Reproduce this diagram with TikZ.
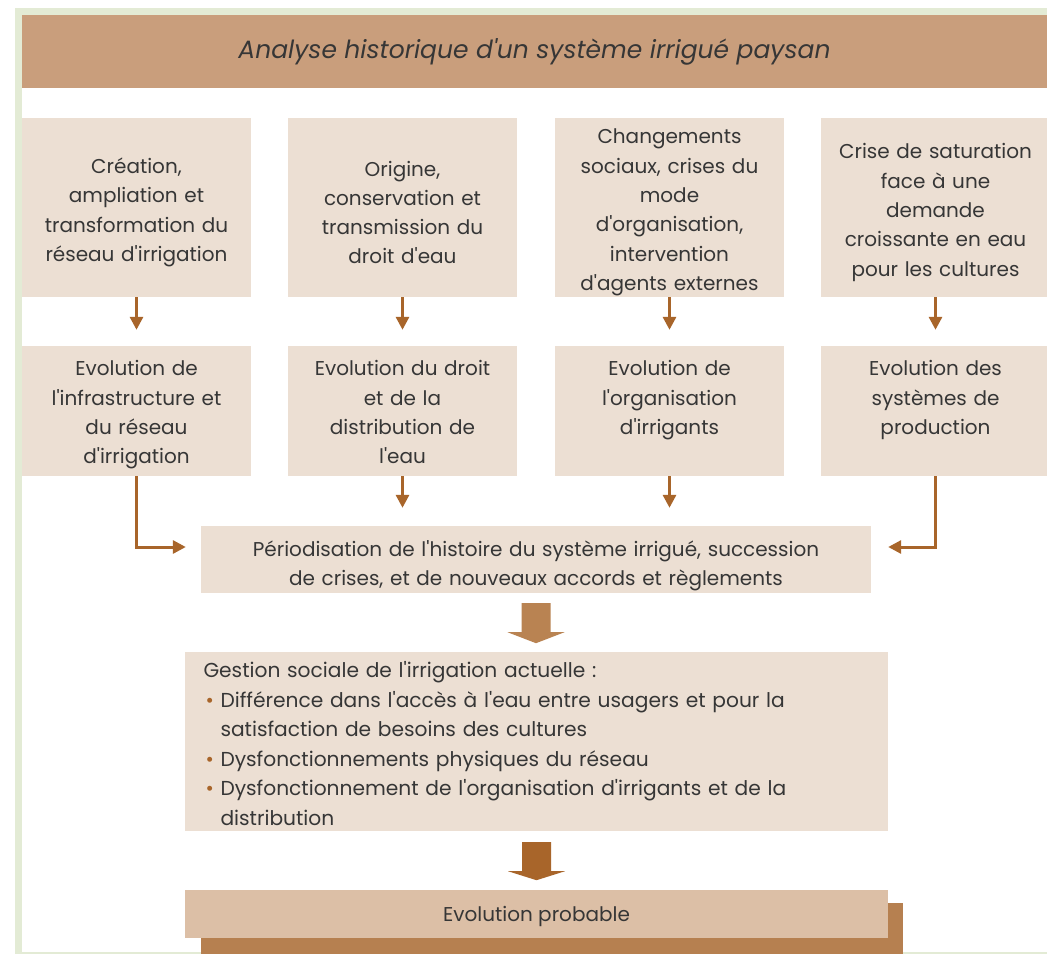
\documentclass[tikz,border=0pt]{standalone}
\usepackage{fontspec}
\setmainfont{Poppins}[Ligatures=TeXOff]
\usetikzlibrary{arrows.meta}
\definecolor{frameg}{HTML}{E3EBD5}
\definecolor{headc}{HTML}{C99E7C}
\definecolor{boxc}{HTML}{ECDFD3}
\definecolor{arrc}{HTML}{A8652A}
\definecolor{bigA}{HTML}{B98352}
\definecolor{bigB}{HTML}{A8652A}
\definecolor{lastc}{HTML}{DCBFA6}
\definecolor{shadc}{HTML}{B68050}
\definecolor{txt}{HTML}{363636}
\newcommand{\bul}{\makebox[17pt][l]{\hspace{2pt}\textcolor{arrc}{\textbullet}}}
\begin{document}
\begin{tikzpicture}[x=1pt,y=-1pt,
  boxfill/.style={fill=boxc, inner sep=0pt, minimum width=229pt},
  boxtext/.style={text=txt, align=center, inner sep=0pt, text width=222pt,
    font=\fontsize{20}{29.3}\selectfont},
  conn/.style={draw=arrc, line width=3pt, -{Triangle[length=13pt,width=13pt]}}]
\useasboundingbox (0,0) rectangle (1047,954);
% frame
\fill[frameg] (15,8) rectangle (1047,954);
\fill[white] (22,15) rectangle (1047,952);
% header
\node[fill=headc, minimum width=1025pt, minimum height=73pt, inner sep=0pt,
  text=txt, font=\fontsize{25}{30}\selectfont\itshape] (head) at (534.5,51.5)
  {Analyse historique d'un système irrigué paysan};
% first row: causes
\node[boxfill, minimum height=179pt] (a1) at (136.5,207.5) {};
\node[boxfill, minimum height=179pt] (a2) at (402.5,207.5) {};
\node[boxfill, minimum height=179pt] (a3) at (669.5,207.5) {};
\node[boxfill, minimum height=179pt] (a4) at (935.5,207.5) {};
\node[boxtext] (s1) at ([yshift=-5pt]a1.center)
  {Création,\\ampliation et\\transformation du\\réseau d'irrigation};
\node[boxtext] (s2) at ([yshift=-5pt]a2.center)
  {Origine,\\conservation et\\transmission du\\droit d'eau};
\node[boxtext] (s3) at ([yshift=-5pt]a3.center)
  {Changements\\sociaux, crises du\\mode\\d'organisation,\\intervention\\d'agents externes};
\node[boxtext] (s4) at ([yshift=-5pt]a4.center)
  {Crise de saturation\\face à une\\demande\\croissante en eau\\pour les cultures};
% second row: evolutions
\node[boxfill, minimum height=130pt] (b1) at (136.5,411) {};
\node[boxfill, minimum height=130pt] (b2) at (402.5,411) {};
\node[boxfill, minimum height=130pt] (b3) at (669.5,411) {};
\node[boxfill, minimum height=130pt] (b4) at (935.5,411) {};
\node[boxtext, anchor=north] (t1) at ([yshift=-14.5pt]b1.north)
  {Evolution de\\l'infrastructure et\\du réseau\\d'irrigation};
\node[boxtext, anchor=north] (t2) at ([yshift=-14.5pt]b2.north)
  {Evolution du droit\\et de la\\distribution de\\l'eau};
\node[boxtext, anchor=north] (t3) at ([yshift=-14.5pt]b3.north)
  {Evolution de\\l'organisation\\d'irrigants};
\node[boxtext, anchor=north] (t4) at ([yshift=-14.5pt]b4.north)
  {Evolution des\\systèmes de\\production};
% periodisation
\node[fill=boxc, minimum width=670pt, minimum height=67pt, inner sep=0pt] (per) at (536,559.5) {};
\node[boxtext, text width=665pt] (pertext) at ([yshift=-6.5pt]per.center)
  {Périodisation de l'histoire du système irrigué, succession\\de crises, et de nouveaux accords et règlements};
% current management
\node[fill=boxc, minimum width=703pt, minimum height=179pt, inner sep=0pt] (ges) at (536.5,741.5) {};
\node[text=txt, align=left, text width=680pt, inner sep=0pt,
  font=\fontsize{20.2}{29.6}\selectfont] (gestext) at ([xshift=7pt,yshift=-2pt]ges.center)
  {Gestion sociale de l'irrigation actuelle :\\
   \bul Différence dans l'accès à l'eau entre usagers et pour la\\
   \hspace*{17pt}satisfaction de besoins des cultures\\
   \bul Dysfonctionnements physiques du réseau\\
   \bul Dysfonctionnement de l'organisation d'irrigants et de la\\
   \hspace*{17pt}distribution};
% probable evolution with offset shadow
\fill[shadc] (201,903) rectangle (903,954);
\node[fill=lastc, minimum width=703pt, minimum height=48pt, inner sep=0pt] (evo) at (536.5,914) {};
\node[text=txt, inner sep=0pt, font=\fontsize{20}{24}\selectfont] (evotext)
  at ([yshift=-2pt]evo.center) {Evolution probable};
% small connectors
\foreach \i in {1,2,3,4}{
  \draw[conn, shorten >=16pt] (a\i.south) -- (b\i.north);
}
\draw[conn, shorten >=18pt] (b2.south) -- (b2.south |- per.north);
\draw[conn, shorten >=18pt] (b3.south) -- (b3.south |- per.north);
\draw[conn] (b1.south) |- ([xshift=-15pt,yshift=12.5pt]per.west);
\draw[conn] (b4.south) |- ([xshift=17pt,yshift=12.5pt]per.east);
% block arrows
\fill[bigA] ([xshift=-14.5pt,yshift=-10pt]per.south) -- ++(29,0) -- ++(0,29)
  -- ++(14,0) -- ++(-28.5,11) -- ++(-28.5,-11) -- ++(14,0) -- cycle;
\fill[bigB] ([xshift=-14.5pt,yshift=-11pt]ges.south) -- ++(29,0) -- ++(0,29)
  -- ++(14,0) -- ++(-28.5,9) -- ++(-28.5,-9) -- ++(14,0) -- cycle;
\end{tikzpicture}
\end{document}
